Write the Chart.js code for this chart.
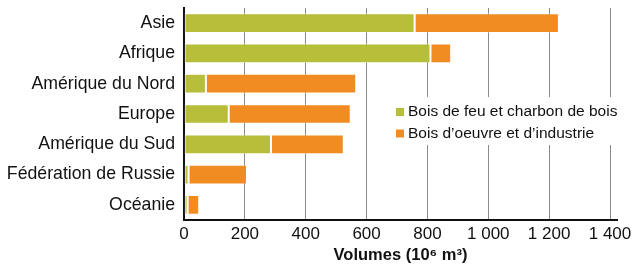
<!DOCTYPE html>
<html>
<head>
<meta charset="utf-8">
<script src="https://cdn.jsdelivr.net/npm/chart.js@4.4.1/dist/chart.umd.min.js"></script>
<style>
    html, body { margin: 0; padding: 0; background: #fff; }
    #wrap { width: 635px; height: 264px; }
</style>
</head>
<body>
<div id="wrap"><canvas id="woodChart" width="635" height="264"></canvas></div>
<script>
const regions = ["Asie", "Afrique", "Amérique du Nord", "Europe", "Amérique du Sud", "Fédération de Russie", "Océanie"];
const seriesNames = ["Bois de feu et charbon de bois", "Bois d’oeuvre et d’industrie"];
const fuelwood = [758, 810, 72, 147, 286, 15, 12];
const industrial = [474, 68, 494, 401, 239, 192, 38];
const xTicks = [0, 200, 400, 600, 800, 1000, 1200, 1400];
const axisTitle = "Volumes (10⁶ m³)";

const FONT = "'Liberation Sans', Arial, Helvetica, sans-serif";
const GREEN = "#b6be3a";
const ORANGE = "#f08c22";

function formatThousands(value) {
    return String(value).replace(/\B(?=(\d{3})+(?!\d))/g, " ");
}

// legend sits inside the plot, on a white patch that cuts the gridlines
const insideLegend = {
    id: "insideLegend",
    afterDatasetsDraw(chart) {
        const ctx = chart.ctx;
        ctx.save();
        ctx.fillStyle = "#fff";
        ctx.fillRect(389, 97, 232, 48);
        ctx.font = "15.5px " + FONT;
        ctx.textBaseline = "alphabetic";
        chart.data.datasets.forEach((ds, i) => {
            const y = 116 + i * 21.5;
            ctx.fillStyle = ds.backgroundColor;
            ctx.fillRect(396, y - 8, 8, 8);
            ctx.fillStyle = "#111";
            ctx.fillText(ds.label, 408, y);
        });
        ctx.restore();
    },
};

new Chart(document.getElementById("woodChart"), {
    type: "bar",
    data: {
        labels: regions,
        datasets: [
            {
                label: seriesNames[0],
                data: fuelwood,
                backgroundColor: GREEN,
                borderColor: "rgba(255,255,255,0.35)",
                borderWidth: 1,
                borderSkipped: false,
            },
            {
                label: seriesNames[1],
                data: industrial,
                backgroundColor: ORANGE,
                borderColor: "rgba(255,255,255,0.35)",
                borderWidth: 1,
                borderSkipped: false,
            },
        ],
    },
    options: {
        indexAxis: "y",
        responsive: false,
        animation: false,
        categoryPercentage: 1,
        barPercentage: 0.65,
        layout: { padding: { top: 8, right: 18, left: 0, bottom: 0 } },
        plugins: {
            legend: { display: false },
            tooltip: { enabled: false },
        },
        scales: {
            x: {
                stacked: true,
                min: 0,
                max: 1423,
                afterBuildTicks(scale) {
                    scale.ticks = xTicks.map((v) => ({ value: v }));
                },
                afterFit(scale) {
                    scale.height = 44;
                    scale.paddingLeft = 0;
                    scale.paddingRight = 0;
                },
                ticks: {
                    padding: 4,
                    color: "#111",
                    font: { family: FONT, size: 17 },
                    callback: (value) => formatThousands(value),
                },
                grid: {
                    color: "#8a8a8a",
                    lineWidth: 1,
                    drawTicks: false,
                },
                border: { display: true, color: "#111", width: 2 },
                title: {
                    display: true,
                    text: axisTitle,
                    color: "#111",
                    font: { family: FONT, size: 16.5, weight: "bold", lineHeight: 1 },
                    padding: { top: 0, bottom: 0 },
                },
            },
            y: {
                stacked: true,
                afterFit(scale) {
                    scale.width = 184;
                    scale.paddingTop = 0;
                    scale.paddingBottom = 0;
                },
                ticks: {
                    padding: 9,
                    color: "#111",
                    font: { family: FONT, size: 17.7 },
                },
                grid: { display: false, drawTicks: false },
                border: { display: true, color: "#111", width: 2 },
            },
        },
    },
    plugins: [insideLegend],
});
</script>
</body>
</html>
